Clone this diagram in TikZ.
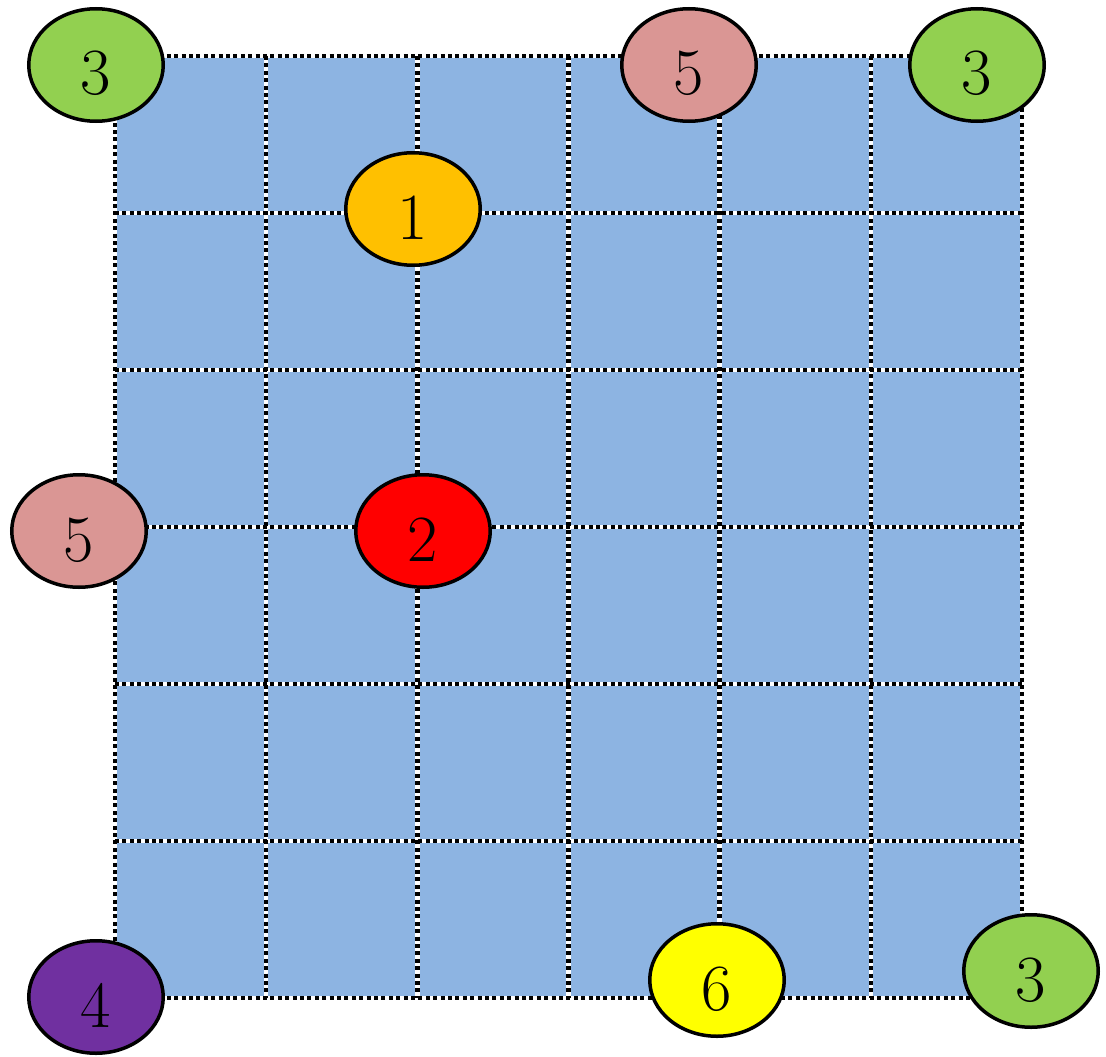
\documentclass[tikz,border=0pt]{standalone}
\usetikzlibrary{shapes.geometric}
\definecolor{gridblue}{HTML}{8DB4E2}
\definecolor{cgreen}{HTML}{92D050}
\definecolor{cpink}{HTML}{DA9694}
\definecolor{corange}{HTML}{FFC000}
\definecolor{cred}{HTML}{FF0000}
\definecolor{cpurple}{HTML}{7030A0}
\definecolor{cyellow}{HTML}{FFFF00}
\tikzset{
  gridwhite/.style={draw=white,line width=4.5pt},
  griddots/.style={draw=black,line width=4.5pt,dash pattern=on 4pt off 3.4pt},
  disc/.style={ellipse,draw=black,line width=3.5pt,minimum width=134.5pt,minimum height=112.5pt,inner sep=0pt,
    font=\fontsize{66}{66}\selectfont,text height=60pt,text depth=0pt}
}
\begin{document}
\begin{tikzpicture}[x=1pt,y=-1pt]
\useasboundingbox (0,0) rectangle (1106,1057);
\fill[gridblue] (115,56) rectangle (1022,998);
\foreach \i in {0,...,6}{
  \pgfmathsetmacro{\xx}{115+\i*151.17}
  \pgfmathsetmacro{\yy}{56+\i*157}
  \draw[gridwhite] (\xx,56) -- (\xx,998);
  \draw[gridwhite] (115,\yy) -- (1022,\yy);
}
\foreach \i in {0,...,6}{
  \pgfmathsetmacro{\xx}{115+\i*151.17}
  \pgfmathsetmacro{\yy}{56+\i*157}
  \draw[griddots] (\xx,56) -- (\xx,998);
  \draw[griddots] (115,\yy) -- (1022,\yy);
}
\node[disc,fill=cgreen] (g1) at (96,65) {3};
\node[disc,fill=cpink] (p1) at (689,65) {5};
\node[disc,fill=cgreen] (g2) at (977,65) {3};
\node[disc,fill=corange] (o1) at (413,209) {1};
\node[disc,fill=cpink] (p2) at (79,531) {5};
\node[disc,fill=cred] (r1) at (423,531) {2};
\node[disc,fill=cpurple] (v1) at (96,997) {4};
\node[disc,fill=cyellow] (y1) at (717,980) {6};
\node[disc,fill=cgreen] (g3) at (1031,971) {3};
\end{tikzpicture}
\end{document}
